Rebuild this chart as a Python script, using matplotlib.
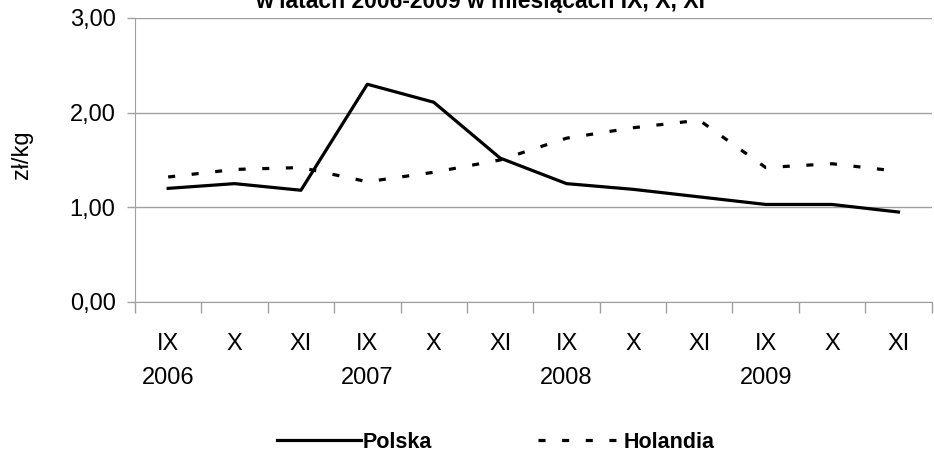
import numpy as np
import matplotlib
matplotlib.use("Agg")
import matplotlib.pyplot as plt
from matplotlib.ticker import FixedLocator, FuncFormatter

plt.rcParams['font.family'] = ['Liberation Sans', 'DejaVu Sans']

# data
months = ['IX', 'X', 'XI'] * 4
years = ['2006', '2007', '2008', '2009']
polska = [1.20, 1.25, 1.18, 2.30, 2.11, 1.52, 1.25, 1.19, 1.11, 1.03, 1.03, 0.95]
holandia = [1.32, 1.40, 1.42, 1.27, 1.37, 1.50, 1.73, 1.84, 1.92, 1.42, 1.46, 1.38]

fig = plt.figure(figsize=(9.34, 4.61), dpi=100)
ax = fig.add_axes([0.1445, 0.345, 0.853, 0.616])

x = np.arange(len(months))
ax.plot(x, polska, color='black', lw=2.3, label='Polska')
ax.plot(x, holandia, color='black', lw=2.3, linestyle=(0, (2.2, 5.2)), label='Holandia')

ax.set_xlim(-0.5, len(months) - 0.5)
ax.set_ylim(0, 3)
ax.set_yticks([0, 1, 2, 3])
ax.yaxis.set_major_formatter(FuncFormatter(lambda v, p: f"{v:.2f}".replace('.', ',')))
ax.grid(axis='y', color='#a0a0a0', lw=1)
ax.set_axisbelow(True)

# category labels, ticks between categories
ax.set_xticks(x)
ax.set_xticklabels(months)
ax.tick_params(axis='x', which='major', length=0, pad=22, labelsize=17)
ax.xaxis.set_minor_locator(FixedLocator(np.arange(-0.5, len(months), 1)))
ax.tick_params(axis='x', which='minor', length=8, color='#a0a0a0', width=1)
ax.tick_params(axis='y', length=6, color='#a0a0a0', width=1, labelsize=17, pad=8)

for i, yr in enumerate(years):
    ax.text(3 * i, -0.80, yr, ha='center', va='center', fontsize=17,
            transform=ax.transData, clip_on=False)

for s in ['top', 'right']:
    ax.spines[s].set_visible(False)
ax.spines['left'].set_color('#a0a0a0')
ax.spines['bottom'].set_color('#a0a0a0')

ax.set_ylabel('zł/kg', fontsize=17)
ax.yaxis.set_label_coords(-(135 - 33) / (0.853 * 934), 0.52)

fig.text(480 / 934, 1 - 8 / 461, 'w latach 2006-2009 w miesiącach IX, X, XI',
         ha='center', va='baseline', fontsize=16.5, fontweight='bold')

leg = fig.legend(loc='center', bbox_to_anchor=(496 / 934, 1 - 442 / 461), ncol=2,
                 frameon=False, handlelength=3.9, handletextpad=0.1,
                 columnspacing=4.9, prop={'size': 15.5, 'weight': 'bold'})

fig.savefig('out.png', dpi=100)
